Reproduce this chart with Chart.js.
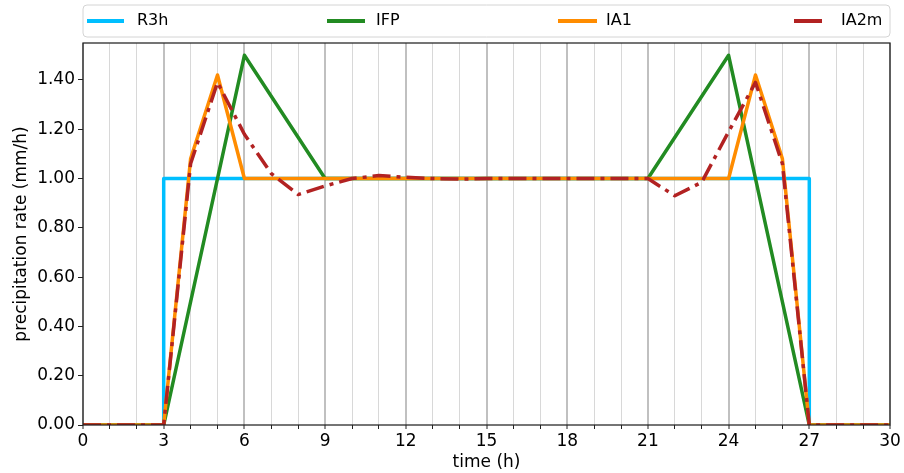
<!DOCTYPE html>
<html>
<head>
<meta charset="utf-8">
<script src="https://cdn.jsdelivr.net/npm/chart.js@4/dist/chart.umd.min.js"></script>
<style>
html,body{margin:0;padding:0;background:#fff;}
canvas{display:block;}
</style>
</head>
<body>
<canvas id="c" width="904" height="473"></canvas>
<script>
// ---- data ----
const seriesNames = ['R3h', 'IFP', 'IA1', 'IA2m'];
const seriesColors = ['#00BFFF', '#228B22', '#FF8C00', '#B22222'];

const r3hTime = [0, 3, 3, 27, 27, 30];
const r3hRate = [0, 0, 1, 1, 0, 0];

const ifpTime = [0, 3, 6, 9, 21, 24, 27, 30];
const ifpRate = [0, 0, 1.5, 1, 1, 1.5, 0, 0];

const hours = [0,1,2,3,4,5,6,7,8,9,10,11,12,13,14,15,16,17,18,19,20,21,22,23,24,25,26,27,28,29,30];
const ia1Rate = [0,0,0,0,1.08,1.42,1,1,1,1,1,1,1,1,1,1,1,1,1,1,1,1,1,1,1,1.42,1.08,0,0,0,0];
const ia2mRate = [0,0,0,0,1.06,1.39,1.18,1.02,0.935,0.97,1.0,1.012,1.005,1.0,0.998,1,1,1,1,1,1,1.0,0.93,0.985,1.19,1.39,1.06,0,0,0,0];

const xTickLabels = ['0','3','6','9','12','15','18','21','24','27','30'];
const yTickLabels = ['0.00','0.20','0.40','0.60','0.80','1.00','1.20','1.40'];

const xTitle = 'time (h)';
const yTitle = 'precipitation rate (mm/h)';

function pts(xs, ys){ return xs.map((x,i)=>({x:x, y:ys[i]})); }

const FONT = 'DejaVu Sans';

const frameLegend = {
  id: 'frameLegend',
  afterDatasetsDraw(chart){
    const ctx = chart.ctx, a = chart.chartArea;
    ctx.save();
    ctx.strokeStyle = '#222';
    ctx.lineWidth = 1.25;
    ctx.strokeRect(a.left, a.top, a.right - a.left, a.bottom - a.top);
    ctx.restore();
  },
  afterDraw(chart){
    const ctx = chart.ctx, a = chart.chartArea;
    ctx.save();
    // legend box
    const bx = a.left, by = 5, bw = a.right - a.left, bh = 32, r = 4;
    ctx.beginPath();
    ctx.moveTo(bx + r, by);
    ctx.lineTo(bx + bw - r, by); ctx.quadraticCurveTo(bx + bw, by, bx + bw, by + r);
    ctx.lineTo(bx + bw, by + bh - r); ctx.quadraticCurveTo(bx + bw, by + bh, bx + bw - r, by + bh);
    ctx.lineTo(bx + r, by + bh); ctx.quadraticCurveTo(bx, by + bh, bx, by + bh - r);
    ctx.lineTo(bx, by + r); ctx.quadraticCurveTo(bx, by, bx + r, by);
    ctx.closePath();
    ctx.fillStyle = 'rgba(255,255,255,0.8)';
    ctx.fill();
    ctx.strokeStyle = '#d4d4d4';
    ctx.lineWidth = 1;
    ctx.stroke();
    const lineStart = [4, 244, 475, 711];
    const lineLen = [37, 38, 39, 28];
    const textStart = [54, 293, 523, 758];
    const ly = by + bh / 2;
    ctx.font = '16px "' + FONT + '"';
    ctx.textBaseline = 'middle';
    ctx.textAlign = 'left';
    for (let i = 0; i < seriesNames.length; i++) {
      ctx.beginPath();
      ctx.strokeStyle = seriesColors[i];
      ctx.lineWidth = 4;
      ctx.moveTo(a.left + lineStart[i], ly);
      ctx.lineTo(a.left + lineStart[i] + lineLen[i], ly);
      ctx.stroke();
      ctx.fillStyle = '#000';
      ctx.fillText(seriesNames[i], a.left + textStart[i], ly);
    }
    ctx.restore();
  }
};

const common = { pointRadius: 0, pointHoverRadius: 0, tension: 0, fill: false, borderWidth: 3.5, borderJoinStyle: 'round' };

new Chart(document.getElementById('c'), {
  type: 'line',
  data: {
    datasets: [
      Object.assign({ label: seriesNames[0], data: pts(r3hTime, r3hRate), borderColor: seriesColors[0], order: 3 }, common),
      Object.assign({ label: seriesNames[1], data: pts(ifpTime, ifpRate), borderColor: seriesColors[1], order: 2 }, common),
      Object.assign({ label: seriesNames[2], data: pts(hours, ia1Rate), borderColor: seriesColors[2], order: 1 }, common),
      Object.assign({ label: seriesNames[3], data: pts(hours, ia2mRate), borderColor: seriesColors[3], order: 0, borderDash: [18, 6, 4, 6], borderCapStyle: 'butt' }, common)
    ]
  },
  options: {
    responsive: false,
    animation: false,
    events: [],
    layout: { padding: { top: 43, right: 14, bottom: 0, left: 0 } },
    plugins: { legend: { display: false }, tooltip: { enabled: false } },
    scales: {
      x: {
        type: 'linear', min: 0, max: 30,
        afterFit(s){ s.height = 48; },
        border: { display: false },
        grid: {
          drawOnChartArea: true, drawTicks: true, tickLength: 4,
          color: ctx => (ctx.tick && ctx.tick.value % 3 === 0) ? '#c0c0c0' : '#d8d8d8',
          lineWidth: ctx => (ctx.tick && ctx.tick.value % 3 === 0) ? 2 : 1,
          tickColor: '#222', tickWidth: 1
        },
        ticks: {
          stepSize: 1, autoSkip: false, maxRotation: 0, padding: 2,
          color: '#000', font: { family: FONT, size: 17 },
          callback: v => (v % 3 === 0) ? xTickLabels[v / 3] : ''
        },
        title: { display: true, text: xTitle, color: '#000', font: { family: FONT, size: 17 }, padding: { top: 0, bottom: 0 } }
      },
      y: {
        type: 'linear', min: 0, max: 1.55,
        afterFit(s){ s.width = 83; },
        afterBuildTicks(s){ s.ticks = yTickLabels.map(t => ({ value: parseFloat(t) })); },
        border: { display: false },
        grid: { drawOnChartArea: false, drawTicks: true, tickLength: 5, tickColor: '#222', tickWidth: 1 },
        ticks: {
          padding: 3, color: '#000', font: { family: FONT, size: 17 },
          callback: (v, i) => yTickLabels[i]
        },
        title: { display: true, text: yTitle, color: '#000', font: { family: FONT, size: 17 }, padding: { top: 11, bottom: 0 } }
      }
    }
  },
  plugins: [frameLegend]
});
</script>
</body>
</html>
